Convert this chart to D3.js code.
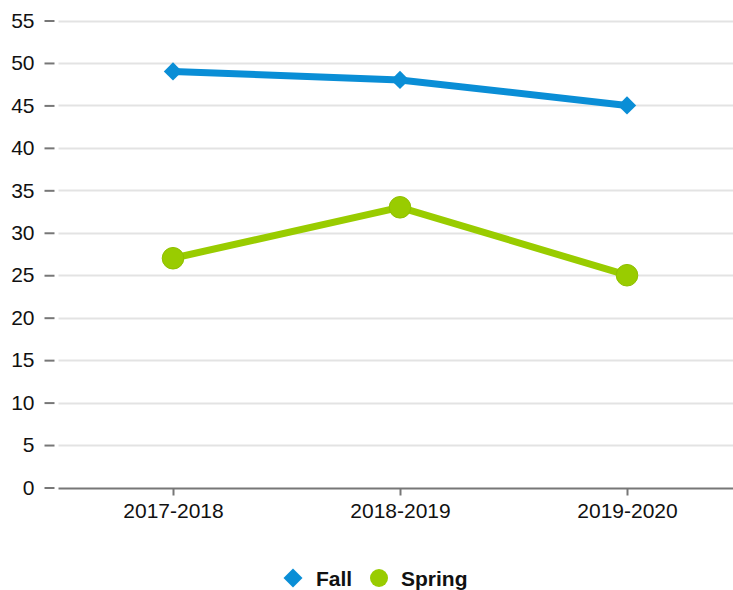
<!DOCTYPE html>
<html>
    <head>
        <style>
            body { margin: 0; background: white; }
            text { font-family: "Liberation Sans", Arial, sans-serif; fill: #111; }
            .grid line { stroke: #e3e3e3; stroke-width: 2; }
        </style>
    </head>
    <body>
        <div id="chart"></div>
        <script src="https://cdn.jsdelivr.net/npm/d3@7"></script>
        <script>

//////////////////// data ////////////////////
let categories = ['2017-2018', '2018-2019', '2019-2020'];
let fall = [49, 48, 45];
let spring = [27, 33, 25];
let yTicks = [0, 5, 10, 15, 20, 25, 30, 35, 40, 45, 50, 55];

//////////////////// layout ////////////////////
let W = 733, H = 590;
let plot_left = 59.5, plot_right = 740.5, plot_top = 20.5, plot_bottom = 487.5;
let FONT_SIZE = 21;
let BLUE = '#0a8ed6', GREEN = '#99cc00';

let svg = d3.select('#chart').append('svg')
    .attr('width', W)
    .attr('height', H);

let x = d3.scalePoint().domain(categories).range([plot_left, plot_right]).padding(0.5);
let y = d3.scaleLinear().domain([0, 55]).range([plot_bottom, plot_top]);

// grille
svg.append('g').classed('grid', true)
    .selectAll('line')
    .data(yTicks.filter(d => d > 0))
    .join('line')
    .attr('x1', plot_left - 1).attr('x2', W)
    .attr('y1', d => Math.round(y(d)) + 0.5).attr('y2', d => Math.round(y(d)) + 0.5);

// axe y
let yAxis = svg.append('g')
    .attr('transform', `translate(${plot_left - 3}, 0)`)
    .call(d3.axisLeft(y).tickValues(yTicks).tickSize(10).tickPadding(12));
yAxis.select('.domain').remove();
yAxis.selectAll('.tick line').attr('stroke', '#777').attr('stroke-width', 2).attr('transform', 'translate(-2,0)');
yAxis.selectAll('.tick text').attr('font-size', FONT_SIZE).style('font-family', '"Liberation Sans", Arial, sans-serif').attr('fill', '#111');

// axe x
let xAxis = svg.append('g')
    .attr('transform', `translate(0, ${Math.round(y(0)) + 0.5})`)
    .call(d3.axisBottom(x).tickSize(7).tickPadding(8).tickSizeOuter(0));
xAxis.select('.domain').attr('stroke', '#777').attr('stroke-width', 2).attr('d', `M${plot_left - 1},0H${W}`);
xAxis.selectAll('.tick line').attr('stroke', '#777').attr('stroke-width', 2);
xAxis.selectAll('.tick text').attr('font-size', FONT_SIZE).style('font-family', '"Liberation Sans", Arial, sans-serif').attr('fill', '#111');

// series
let line = d3.line().x((d, i) => x(categories[i])).y(d => y(d));

svg.append('path').datum(fall)
    .attr('d', line)
    .attr('fill', 'none').attr('stroke', BLUE).attr('stroke-width', 7);
svg.append('path').datum(spring)
    .attr('d', line)
    .attr('fill', 'none').attr('stroke', GREEN).attr('stroke-width', 7);

let diamond = d3.symbol().type(d3.symbolSquare).size(168);
svg.selectAll('.fall-pt').data(fall).join('path')
    .attr('d', diamond)
    .attr('transform', (d, i) => `translate(${x(categories[i])}, ${y(d)}) rotate(45)`)
    .attr('fill', BLUE);

svg.selectAll('.spring-pt').data(spring).join('circle')
    .attr('cx', (d, i) => x(categories[i]))
    .attr('cy', d => y(d))
    .attr('r', 10.8)
    .attr('fill', GREEN)
    .attr('stroke', '#8fbf00').attr('stroke-width', 1);

// legende
let legend = svg.append('g').attr('transform', 'translate(0, 578)');
legend.append('path')
    .attr('d', d3.symbol().type(d3.symbolSquare).size(180))
    .attr('transform', 'translate(293, 0) rotate(45)')
    .attr('fill', BLUE);
legend.append('text').attr('x', 316).attr('y', 7.5)
    .attr('font-size', FONT_SIZE).attr('font-weight', 'bold').text('Fall');
legend.append('circle').attr('cx', 379).attr('cy', 0).attr('r', 9).attr('fill', GREEN);
legend.append('text').attr('x', 401).attr('y', 7.5)
    .attr('font-size', FONT_SIZE).attr('font-weight', 'bold').text('Spring');

        </script>
    </body>
</html>
